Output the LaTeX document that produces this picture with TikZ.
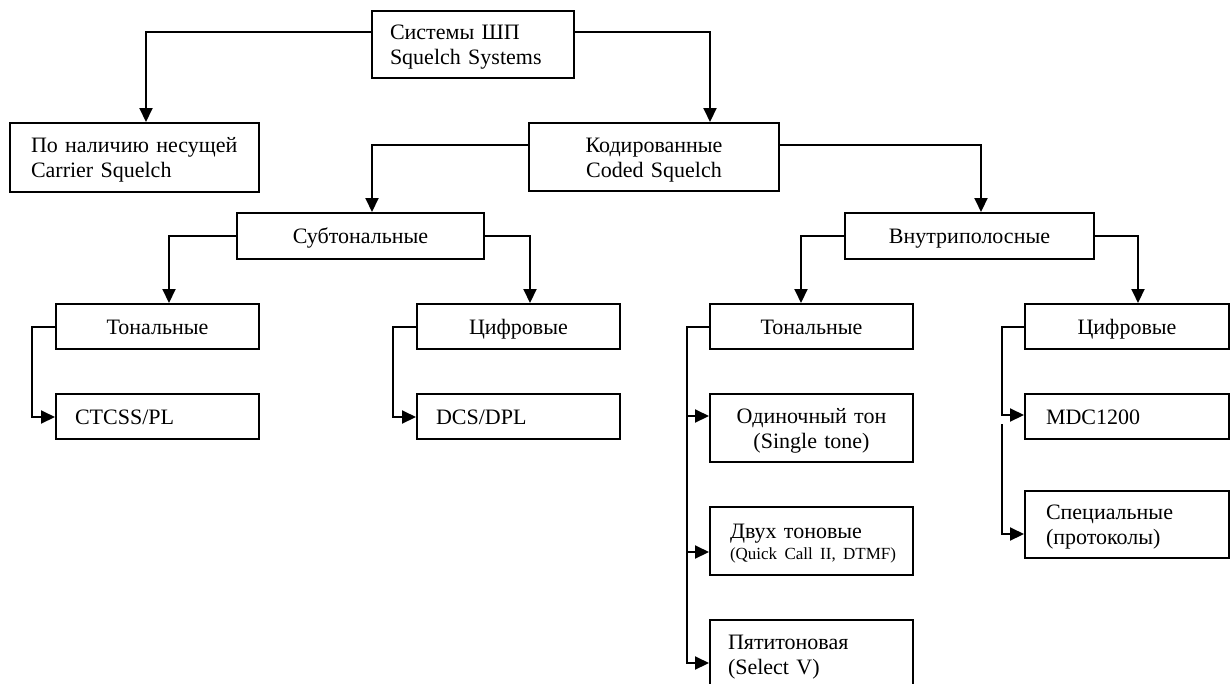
\documentclass[tikz,border=0pt]{standalone}
\usepackage{fontspec}
\setmainfont{Liberation Serif}
\usetikzlibrary{arrows.meta,calc}
\newcommand\bigf{\fontsize{22}{25}\selectfont}
\newcommand\smallf{\fontsize{17}{20}\selectfont}
\begin{document}
\begin{tikzpicture}[x=1pt,y=-1pt,
  bx/.style={draw, line width=2pt, anchor=north west, inner ysep=0pt, font=\bigf},
  one/.style={text height=18pt, text depth=3pt},
  two/.style={text height=18pt, text depth=28pt},
  cbox/.style={bx, inner xsep=4pt, align=center},
  lbox/.style={bx, align=left},
  arr/.style={line width=2pt, -{Triangle[length=14pt,width=13pt]}}]
\useasboundingbox (0,0) rectangle (1230,683);
\clip (0,0) rectangle (1230,683);

% level 0
\node[lbox, two, inner xsep=18pt, text width=166pt, minimum height=67pt] (top) at (371,10)
  {Системы~ШП\\Squelch~Systems};
% level 1
\node[lbox, two, inner xsep=21pt, text width=207pt, minimum height=69pt] (carrier) at (9,122)
  {По~наличию~несущей\\Carrier~Squelch};
\node[cbox, two, text width=242pt, minimum height=68pt] (kod) at (528,122)
  {Кодированные\\Coded Squelch};
% level 2
\node[cbox, one, text width=239pt, minimum height=46pt] (sub) at (236,212) {Субтональные};
\node[cbox, one, text width=241pt, minimum height=46pt] (vn) at (844,212) {Внутриполосные};
% level 3
\node[cbox, one, text width=195pt, minimum height=45pt] (tonL) at (55,303) {Тональные};
\node[cbox, one, text width=195pt, minimum height=45pt] (cifL) at (416,303) {Цифровые};
\node[cbox, one, text width=195pt, minimum height=45pt] (tonR) at (709,303) {Тональные};
\node[cbox, one, text width=196pt, minimum height=45pt] (cifR) at (1024,303) {Цифровые};
% level 4
\node[lbox, one, inner xsep=19pt, text width=165pt, minimum height=45pt] (ctcss) at (55,393) {CTCSS/PL};
\node[lbox, one, inner xsep=19pt, text width=165pt, minimum height=45pt] (dcs) at (416,393) {DCS/DPL};
\node[cbox, two, text width=195pt, minimum height=68pt] (odin) at (709,393)
  {Одиночный тон\\(Single tone)};
\node[lbox, text height=18pt, text depth=24pt, inner xsep=20pt, text width=163pt, minimum height=68pt] (dvuh) at (709,506)
  {Двух~тоновые\\[-4pt]{\smallf (Quick~Call~II,~DTMF)}};
\node[lbox, two, inner xsep=18pt, text width=167pt, minimum height=68pt] (pyat) at (709,619)
  {Пятитоновая\\(Select~V)};
\node[lbox, one, inner xsep=21pt, text width=162pt, minimum height=45pt] (mdc) at (1024,393) {MDC1200};
\node[lbox, two, inner xsep=21pt, text width=162pt, minimum height=67pt] (spec) at (1024,490)
  {Специальные\\(протоколы)};

% connectors
\draw[arr] ($(top.north west)+(0,22)$) -| ($(carrier.north)+(11.5,0)$);
\draw[arr] ($(top.north east)+(0,22)$) -| ($(kod.north)+(56,0)$);
\draw[arr] ($(kod.north west)+(0,23)$) -| ($(sub.north)+(11.5,0)$);
\draw[arr] ($(kod.north east)+(0,23)$) -| ($(vn.north)+(11.5,0)$);
\draw[arr] ($(sub.north west)+(0,24)$) -| ($(tonL.north)+(11.5,0)$);
\draw[arr] ($(sub.north east)+(0,24)$) -| ($(cifL.north)+(11.5,0)$);
\draw[arr] ($(vn.north west)+(0,24)$) -| ($(tonR.north)+(-10.5,0)$);
\draw[arr] ($(vn.north east)+(0,24)$) -| ($(cifR.north)+(11,0)$);

\draw[arr] (tonL.west) -- ++(-23,0) |- ($(ctcss.north west)+(0,24)$);
\draw[arr] (cifL.west) -- ++(-23,0) |- ($(dcs.north west)+(0,24)$);

\draw[arr] (tonR.west) -- ++(-22,0) |- ($(odin.north west)+(0,23)$);
\draw[arr] (tonR.west) -- ++(-22,0) |- ($(dvuh.north west)+(0,46)$);
\draw[arr] (tonR.west) -- ++(-22,0) |- ($(pyat.north west)+(0,44)$);

\draw[arr] (cifR.west) -- ++(-22,0) |- ($(mdc.north west)+(0,22)$);
\coordinate (gap) at ($(mdc.south west)+(-22,-16)$);
\draw[arr] (gap) |- ($(spec.north west)+(0,44)$);
\end{tikzpicture}
\end{document}
